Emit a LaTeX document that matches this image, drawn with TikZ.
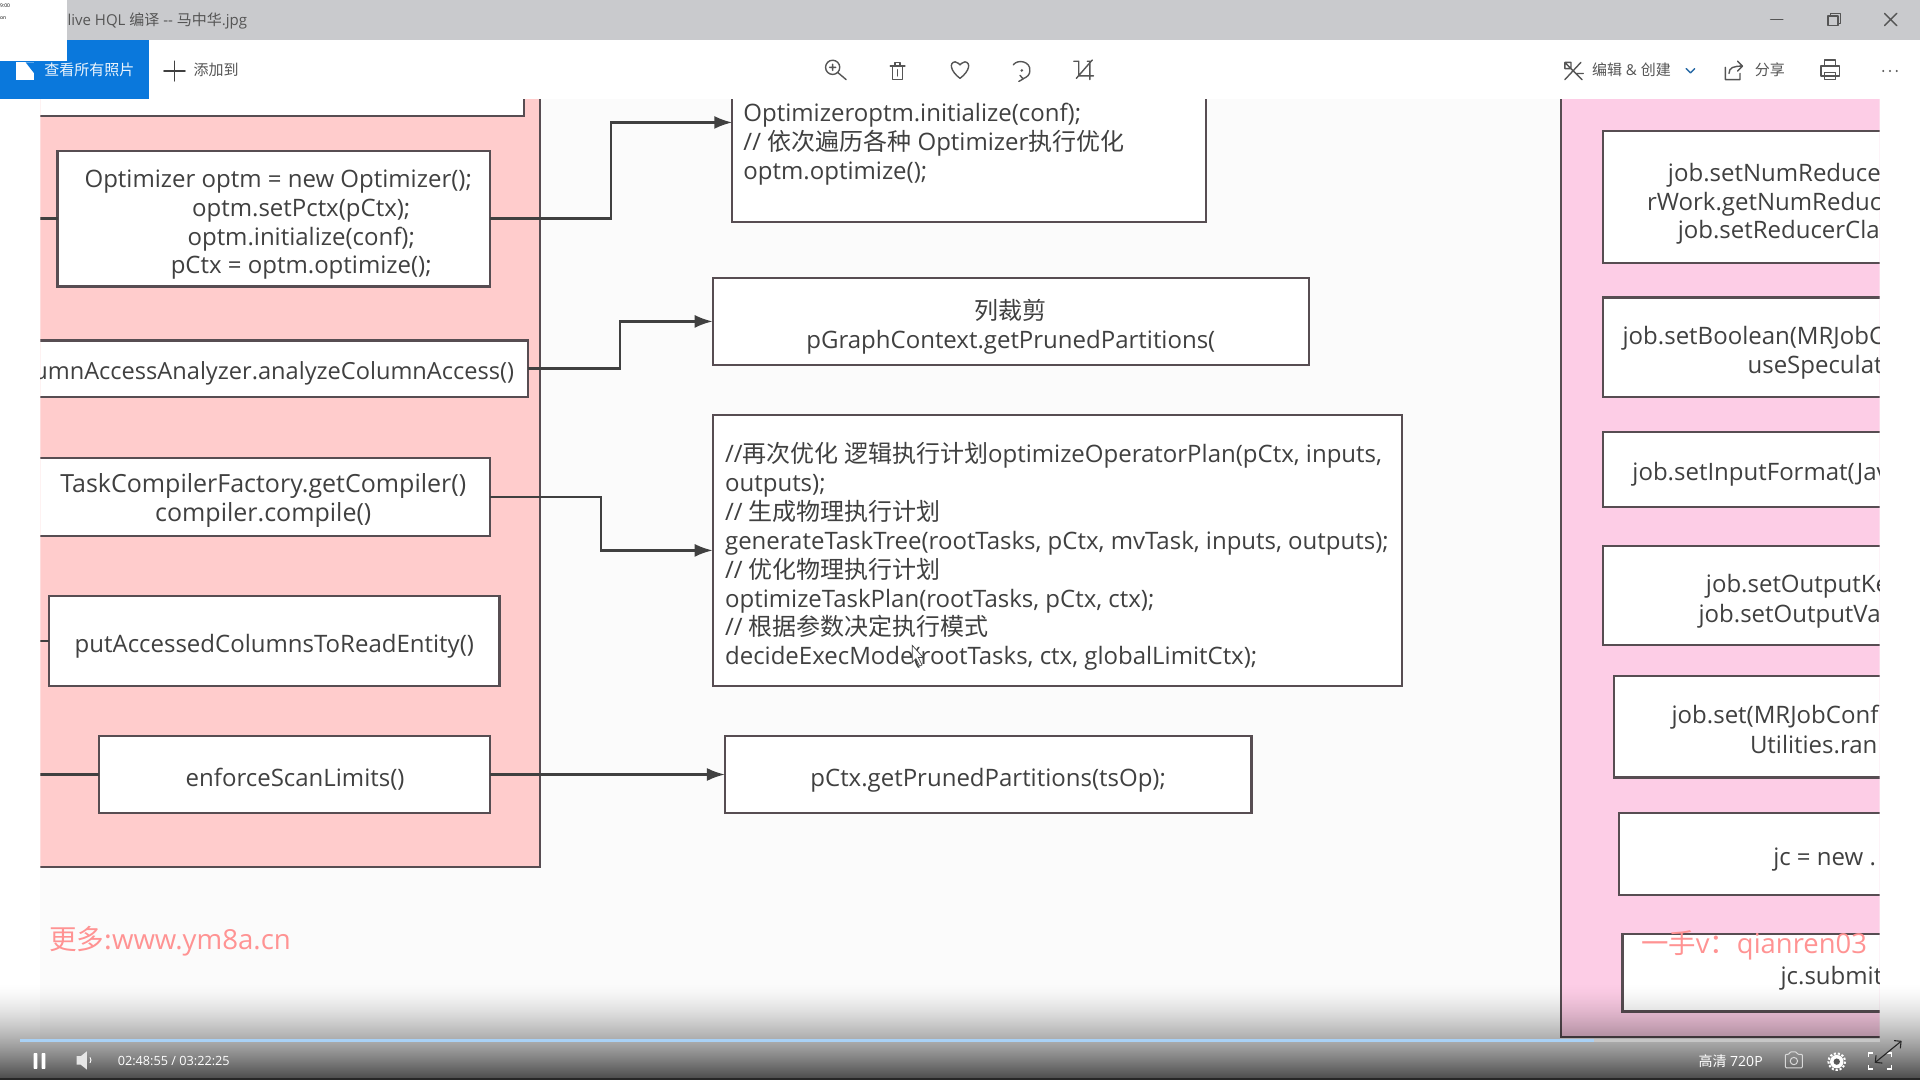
\documentclass[tikz,border=0pt]{standalone}
\usepackage{fontspec}
\setmainfont{Open Sans}
\newfontfamily\cjk{Noto Sans CJK SC}
\usetikzlibrary{arrows.meta}
\newcommand\zh[1]{{\cjk #1}}
\newcommand\bx[5]{\node[box,anchor=north west,minimum width={(#4-#2)*1.22449},minimum height={(#5-#3)*1.22449}] (#1) at (#2,#3) {};}
\definecolor{ink}{HTML}{404040}
\definecolor{edge}{HTML}{574D52}
\definecolor{pinkA}{HTML}{FFCCCC}
\definecolor{pinkB}{HTML}{FDCDE6}
\definecolor{bar}{HTML}{C9CACD}
\definecolor{blueB}{HTML}{0A78DC}
\definecolor{wm}{HTML}{FF9393}
\definecolor{tool}{HTML}{555555}
\definecolor{prog}{HTML}{A9D1F5}
\tikzset{
  box/.style={draw=edge,fill=white,line width=2.2pt,inner sep=0pt,outer sep=0pt},
  panel/.style={draw=edge,line width=2.2pt},
  conn/.style={draw=ink,line width=2.2pt},
  arr/.style={conn,-{Latex[length=18pt,width=13pt]}},
  txt/.style={text=ink,font=\fontsize{24}{28.9}\selectfont,inner sep=0pt,align=center},
  txl/.style={txt,align=left},
  ui/.style={text=tool,font=\fontsize{15}{17}\selectfont,inner sep=0pt},
  ic/.style={draw=tool,line width=1.4pt,line cap=round,line join=round},
  ctl/.style={text=white,font=\fontsize{12.7}{15}\selectfont,inner sep=0pt},
}
\begin{document}
\begin{tikzpicture}[x=1.22449pt,y=-1.22449pt]
\useasboundingbox (0,0) rectangle (1568,882);
\fill[white] (0,0) rectangle (1568,882);
\fill[black!1.5] (33,81) rectangle (1535,850);
\begin{scope}
\clip (33,81) rectangle (1535,850);
% left panel
\fill[pinkA] (20,60) rectangle (441,708);
\draw[panel] (441,60) -- (441,708) -- (20,708);
\bx{topL}{20}{60}{428}{95}
\coordinate (l1) at (33,178.5);
\coordinate (l2) at (33,523.5);
\coordinate (l3) at (33,632.5);
\bx{opt}{47}{123}{400}{234}
\bx{col}{20}{278}{431}{324}
\bx{task}{20}{374}{400}{438}
\bx{put}{40}{487}{408}{560}
\bx{enf}{81}{601}{400}{664}
\draw[conn] (opt.west) -- (l1);
\draw[conn] (put.west) -- (l2);
\draw[conn] (enf.west) -- (l3);
\node[txt] (optT) at (246,183.5) {\hspace*{-46pt}Optimizer optm = new Optimizer();\\optm.setPctx(pCtx);\\optm.initialize(conf);\\pCtx = optm.optimize();};
\node[txt,font=\fontsize{23.6}{28.9}\selectfont,anchor=east] (colT) at (420,305) {umnAccessAnalyzer.analyzeColumnAccess()};
\node[txt,font=\fontsize{25}{29.4}\selectfont] (taskT) at (215,408.5) {TaskCompilerFactory.getCompiler()\\compiler.compile()};
\node[txt] (putT) at (224,528) {putAccessedColumnsToReadEntity()};
\node[txt] (enfT) at (241,636) {enforceScanLimits()};
% middle boxes
\bx{topB}{598}{60}{985}{181}
\bx{prune}{582}{227}{1069}{298}
\bx{big}{582}{339}{1145}{560}
\bx{parts}{592}{601}{1022}{664}
\node[txl,anchor=north west] (topT) at (607,84) {Optimizeroptm.initialize(conf);\\// \zh{依次遍历各种} Optimizer\zh{执行优化}\\optm.optimize();};
\node[txt] (pruneT) at (825.5,267) {\zh{列裁剪}\\pGraphContext.getPrunedPartitions(};
\node[txl,anchor=west] (bigT) at (592,454.5) {//\zh{再次优化 逻辑执行计划}optimizeOperatorPlan(pCtx, inputs,\\outputs);\\// \zh{生成物理执行计划}\\generateTaskTree(rootTasks, pCtx, mvTask, inputs, outputs);\\// \zh{优化物理执行计划}\\optimizeTaskPlan(rootTasks, pCtx, ctx);\\// \zh{根据参数决定执行模式}\\decideExecMode(rootTasks, ctx, globalLimitCtx);};
\node[txt] (partsT) at (807,637) {pCtx.getPrunedPartitions(tsOp);};
% connectors
\coordinate (e1) at (499,100);
\coordinate (e2) at (506,262.5);
\coordinate (e3) at (491,449.5);
\coordinate (h1) at (598,100);
\draw[arr] (opt.east) -| (e1) -- (h1);
\draw[arr] (col.east) -| (e2) -- (prune.west);
\draw[arr] (task.east) -| (e3) -- (big.west);
\draw[arr] (enf.east) -- (parts.west);
% right panel
\fill[pinkB] (1275,60) rectangle (1600,847);
\draw[panel] (1275,60) -- (1275,847) -- (1600,847);
\bx{r1}{1309}{107}{1600}{215}
\bx{r2}{1309}{243}{1600}{324}
\bx{r3}{1309}{353}{1600}{414}
\bx{r4}{1309}{446}{1600}{527}
\bx{r5}{1318}{552}{1600}{635}
\bx{r6}{1322}{664}{1600}{731}
\bx{r7}{1325}{763}{1600}{826}
\node[txt,anchor=base west] (r1a) at (1362,148) {job.setNumReduce};
\node[txt,anchor=base west] (r1b) at (1345,172) {rWork.getNumReduc};
\node[txt,anchor=base west] (r1c) at (1370,195) {job.setReducerClas};
\node[txt,anchor=base west] (r2a) at (1325,281) {job.setBoolean(MRJobC};
\node[txt,anchor=base west] (r2b) at (1427,305) {useSpeculat};
\node[txt,anchor=base west] (r3a) at (1333,392) {job.setInputFormat(Jav};
\node[txt,anchor=base west] (r4a) at (1393,484) {job.setOutputKe};
\node[txt,anchor=base west] (r4b) at (1387,508) {job.setOutputVa};
\node[txt,anchor=base west] (r5a) at (1365,591) {job.set(MRJobConf};
\node[txt,anchor=base west] (r5b) at (1429,615) {Utilities.ran};
\node[txt,anchor=base west] (r6a) at (1448,707) {jc = new .};
\node[txt,anchor=base west] (r7a) at (1454,804) {jc.submit};
% watermarks
\node[text=wm,font=\fontsize{27.6}{30}\selectfont,inner sep=0pt,anchor=west] (wm1) at (40,769) {\zh{更多:}www.ym8a.cn};
\node[text=wm,font=\fontsize{27.4}{30}\selectfont,inner sep=0pt,anchor=west] (wm2) at (1340,772) {\zh{一手}v\zh{：}qianren03};
% cursor
\draw[ink,fill=white,line width=.7pt] (745,527) -- (745,541) -- (748,538) -- (751,544) -- (753,543) -- (750,537) -- (754,537) -- cycle;
\end{scope}
% title bar
\fill[bar] (0,0) rectangle (1568,33);
\fill[white] (0,33) rectangle (1568,81);
\fill[blueB] (0,33) rectangle (122,81);
\fill[white] (0,0) rectangle (55,50);
\node[text=black,font=\fontsize{5}{6}\selectfont,inner sep=0pt,anchor=west] (clk) at (0,4.5) {9:00};
\node[text=black,font=\fontsize{5}{6}\selectfont,inner sep=0pt,anchor=west] (clk2) at (0,14.5) {on};
\node[ui,anchor=west] (ttl) at (55,17.5) {live HQL \zh{编译} -{}- \zh{马中华}.jpg};
\draw[ic] (1446,16) -- (1456,16);
\draw[ic] (1493,13) rectangle (1501,21);
\draw[ic] (1495,13) -- (1495,11) -- (1503,11) -- (1503,19) -- (1501,19);
\draw[ic] (1539,11) -- (1549,21) (1549,11) -- (1539,21);
% toolbar left
\fill[white] (13,51) rectangle (28,65);
\fill[blueB] (21,51) -- (28,51) -- (28,60) -- cycle;
\node[text=white!92!blueB,font=\fontsize{15}{17}\selectfont,inner sep=0pt,anchor=west] (allp) at (36,57) {\zh{查看所有照片}};
\draw[ic,draw=ink,line width=1.8pt] (134,58) -- (151,58) (142.5,50) -- (142.5,66);
\node[ui,anchor=west] (addto) at (158,57) {\zh{添加到}};
% toolbar centre
\draw[ic] (680,55) circle (5.8) (684.5,59.5) -- (691,65) (677.5,55) -- (682.5,55) (680,52.5) -- (680,57.5);
\draw[ic] (727,54) -- (739,54) (729,54) -- (729,65) -- (737,65) -- (737,54) (731,54) -- (731,51) -- (735,51) -- (735,54) (733,57) -- (733,62);
\draw[ic] (784,64) .. controls (776,58) and (775,51) .. (780,50.5) .. controls (782,50.5) and (784,53) .. (784,53) .. controls (784,53) and (786,50.5) .. (788,50.5) .. controls (793,51) and (792,58) .. (784,64);
\draw[ic] (827.5,53) .. controls (831,48) and (842,50) .. (841,58) .. controls (841,61) and (839,63) .. (835,64.5);
\draw[ic] (833,61.5) -- (835.5,64.5) -- (832,66.5);
\fill[tool] (834.5,57.5) circle (1.2);
\draw[ic] (881,50) -- (881,62) -- (893,62) (881,50) -- (877,50) (888,50) -- (890,50) -- (890,65) (879,64) -- (892,49);
% toolbar right
\draw[ic] (1279,52) -- (1292,65) (1291,51) -- (1278,65) (1278,51) -- (1283,51) -- (1283,56) -- (1278,56) -- cycle (1287,60) -- (1293,60);
\node[ui,anchor=west] (edit) at (1300,57) {\zh{编辑} \& \zh{创建}};
\draw[ic,draw=blueB!60!tool] (1377,56) -- (1380.5,59.5) -- (1384,56);
\draw[ic] (1409,55) -- (1409,65) -- (1421,65) -- (1421,60) (1412,60) .. controls (1412,55) and (1416,54) .. (1423,54) (1419,50) -- (1423,54) -- (1419,58);
\node[ui,anchor=west] (share) at (1433,57) {\zh{分享}};
\draw[ic] (1487,54) rectangle (1502,62) (1490,54) -- (1490,49) -- (1499,49) -- (1499,54) (1490,59) rectangle (1499,65);
\fill[tool] (1538,58) circle (.9) (1543.5,58) circle (.9) (1549,58) circle (.9);
% video overlay
\begin{scope}[x=1pt,y=-1pt]
\foreach \yy in {983,...,1079}{
  \pgfmathsetmacro\aa{0.72*((\yy-983)/97)^1.5}
  \fill[black,opacity=\aa] (0,\yy) rectangle (1920,\yy+1);
}
\end{scope}
\fill[black!85] (0,880.5) rectangle (1568,882);
\fill[white!55!gray] (16,848.2) rectangle (1535,851);
\fill[prog] (16,848.2) rectangle (1302,851);
% controls
\fill[white,rounded corners=.7pt] (27.5,860) rectangle (30.5,873) (34,860) rectangle (37,873);
\fill[white!90!black] (62.5,862.5) -- (66,862.5) -- (71,858.5) -- (71,873.5) -- (66,869.5) -- (62.5,869.5) -- cycle;
\draw[white,line width=.9pt] (73.5,863.5) arc (-40:40:3.5);
\node[ctl,anchor=west] (time) at (96,866.5) {02:48:55 / 03:22:25};
\node[ctl,font=\fontsize{14}{16}\selectfont,anchor=west] (hd) at (1387,867) {\zh{高清} 720P};
\draw[white!85!black,line width=1pt,rounded corners=1pt] (1458,861) -- (1461,861) -- (1462,859) -- (1467,859) -- (1468,861) -- (1472,861) -- (1472,872) -- (1458,872) -- cycle;
\draw[white!85!black,line width=1pt] (1465,866.5) circle (3);
\fill[white] (1500,867) circle (5.5);
\draw[white,line width=2pt,dash pattern=on 2.2pt off 1.8pt] (1500,867) circle (6.8);
\fill[gray!70!black] (1500,867) circle (2.6);
\draw[white,line width=1.2pt] (1526,863) -- (1526,860) -- (1530,860) (1541,860) -- (1545,860) -- (1545,863) (1526,870) -- (1526,873) -- (1530,873) (1541,873) -- (1545,873) -- (1545,870);
\draw[black!85,line width=1.1pt,{Straight Barb[length=5pt]}-{Straight Barb[length=5pt]}] (1531,868) -- (1553,850);
\end{tikzpicture}
\end{document}
